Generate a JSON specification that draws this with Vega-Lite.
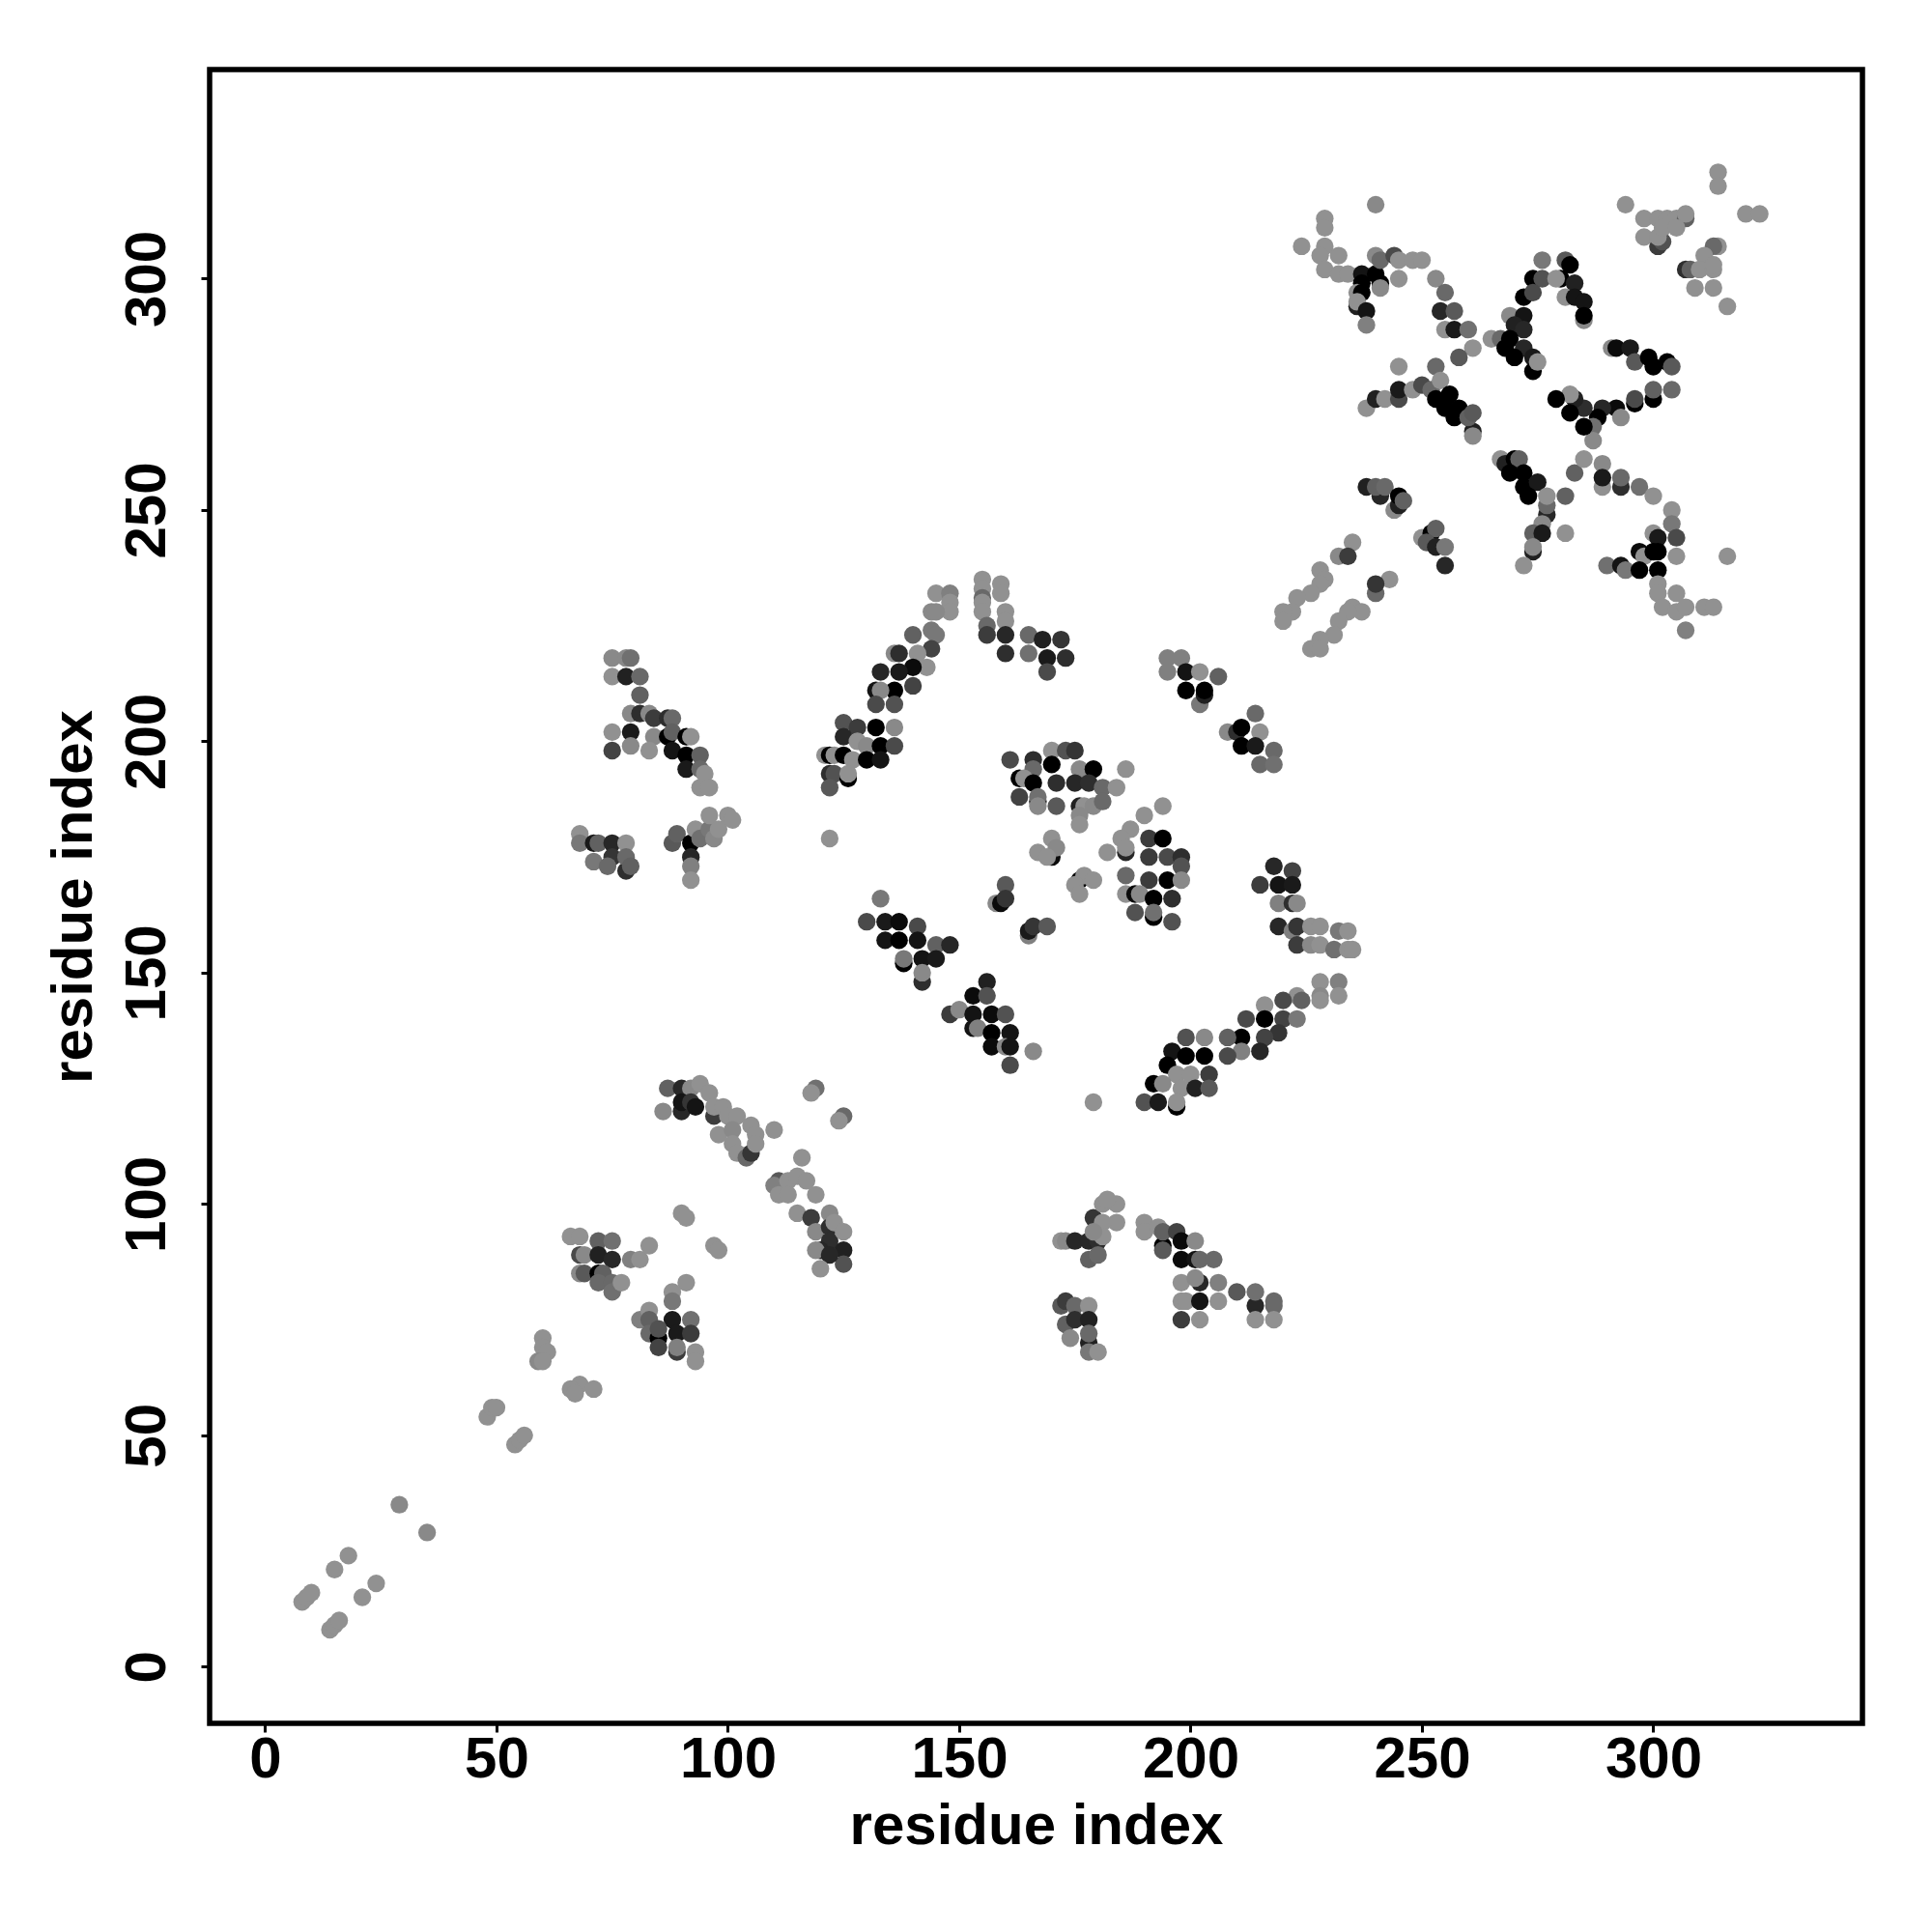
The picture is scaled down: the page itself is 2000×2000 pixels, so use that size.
{"$schema":"https://vega.github.io/schema/vega-lite/v6.json","autosize":{"type":"none"},"padding":{"left":217,"top":72,"right":72,"bottom":216},"width":1711,"height":1712,"background":"white","view":{"stroke":"#000000","strokeWidth":5.5,"fill":"white"},"config":{"font":"Liberation Sans"},
"data":{"values":[
{"i":8,"j":14,"w":0.05},{"i":9,"j":15,"w":0.05},{"i":10,"j":16,"w":0.05},{"i":14,"j":8,"w":0.05},{"i":15,"j":9,"w":0.05},{"i":16,"j":10,"w":0.05},{"i":15,"j":21,"w":0.05},{"i":18,"j":24,"w":0.05},{"i":21,"j":15,"w":0.05},{"i":24,"j":18,"w":0.05},{"i":29,"j":35,"w":0.1},{"i":35,"j":29,"w":0.1},{"i":48,"j":54,"w":0.05},{"i":49,"j":56,"w":0.05},{"i":50,"j":56,"w":0.05},{"i":54,"j":48,"w":0.05},{"i":55,"j":49,"w":0.05},{"i":56,"j":50,"w":0.05},
{"i":60,"j":71,"w":0.05},{"i":60,"j":69,"w":0.05},{"i":61,"j":68,"w":0.05},{"i":59,"j":66,"w":0.1},{"i":60,"j":66,"w":0.05},{"i":68,"j":61,"w":0.05},{"i":66,"j":60,"w":0.05},{"i":67,"j":59,"w":0.05},{"i":71,"j":60,"w":0.05},
{"i":66,"j":93,"w":0.05},{"i":68,"j":93,"w":0.05},{"i":72,"j":92,"w":0.35},{"i":75,"j":92,"w":0.25},{"i":68,"j":89,"w":0.5},{"i":69,"j":89,"w":0.1},{"i":72,"j":89,"w":0.8},{"i":75,"j":88,"w":0.75},{"i":79,"j":88,"w":0.15},{"i":81,"j":88,"w":0.05},{"i":83,"j":91,"w":0.05},{"i":68,"j":85,"w":0.1},{"i":69,"j":85,"w":0.4},{"i":72,"j":85,"w":1},{"i":73,"j":85,"w":0.35},{"i":72,"j":83,"w":0.3},{"i":75,"j":83,"w":0.3},{"i":75,"j":81,"w":0.25},{"i":77,"j":83,"w":0.05},
{"i":90,"j":98,"w":0.05},{"i":91,"j":97,"w":0.05},{"i":97,"j":91,"w":0.05},{"i":98,"j":90,"w":0.05},
{"i":91,"j":83,"w":0.05},{"i":88,"j":81,"w":0.05},{"i":88,"j":79,"w":0.2},{"i":81,"j":75,"w":0.15},{"i":83,"j":77,"w":0.05},{"i":83,"j":75,"w":0.35},{"i":88,"j":75,"w":0.85},{"i":92,"j":75,"w":0.25},{"i":83,"j":72,"w":0.3},{"i":85,"j":71,"w":1},{"i":85,"j":73,"w":0.45},{"i":89,"j":72,"w":0.85},{"i":92,"j":72,"w":0.6},{"i":85,"j":69,"w":0.55},{"i":89,"j":68,"w":0.6},{"i":89,"j":69,"w":0.15},{"i":93,"j":68,"w":0.05},{"i":93,"j":66,"w":0.05},
{"i":87,"j":125,"w":0.35},{"i":90,"j":125,"w":0.75},{"i":92,"j":125,"w":0.1},{"i":94,"j":126,"w":0.05},{"i":86,"j":120,"w":0.1},{"i":90,"j":120,"w":0.75},{"i":90,"j":122,"w":0.9},{"i":92,"j":122,"w":0.65},{"i":93,"j":121,"w":0.9},{"i":96,"j":124,"w":0.05},{"i":97,"j":119,"w":0.6},{"i":97,"j":121,"w":0.05},{"i":99,"j":121,"w":0.05},{"i":98,"j":115,"w":0.05},{"i":100,"j":119,"w":0.05},{"i":102,"j":119,"w":0.05},{"i":101,"j":116,"w":0.1},{"i":101,"j":113,"w":0.05},{"i":102,"j":111,"w":0.05},{"i":104,"j":110,"w":0.3},{"i":105,"j":111,"w":0.65},{"i":105,"j":117,"w":0.05},{"i":106,"j":115,"w":0.05},{"i":106,"j":113,"w":0.05},{"i":110,"j":116,"w":0.05},{"i":119,"j":125,"w":0.25},{"i":118,"j":124,"w":0.05},{"i":125,"j":119,"w":0.3},{"i":124,"j":118,"w":0.05},{"i":116,"j":110,"w":0.05},
{"i":111,"j":105,"w":0.4},{"i":110,"j":104,"w":0.15},{"i":111,"j":102,"w":0.05},{"i":113,"j":105,"w":0.05},{"i":115,"j":106,"w":0.05},{"i":117,"j":105,"w":0.05},{"i":113,"j":102,"w":0.05},{"i":115,"j":98,"w":0.05},{"i":119,"j":102,"w":0.05},{"i":118,"j":97,"w":0.6},{"i":122,"j":98,"w":0.1},{"i":119,"j":94,"w":0.1},{"i":122,"j":95,"w":0.7},{"i":123,"j":96,"w":0.05},{"i":122,"j":92,"w":0.7},{"i":125,"j":90,"w":0.8},{"i":125,"j":94,"w":0.05},{"i":125,"j":87,"w":0.45},{"i":120,"j":90,"w":0.75},{"i":119,"j":90,"w":0.1},{"i":122,"j":89,"w":0.75},{"i":120,"j":86,"w":0.05},
{"i":172,"j":92,"w":0.05},{"i":173,"j":92,"w":0.1},{"i":175,"j":92,"w":0.75},{"i":178,"j":92,"w":0.75},{"i":179,"j":97,"w":0.65},{"i":180,"j":92,"w":0.7},{"i":184,"j":100,"w":0.05},{"i":181,"j":100,"w":0.05},{"i":182,"j":101,"w":0.05},{"i":184,"j":96,"w":0.05},{"i":181,"j":96,"w":0.05},{"i":181,"j":93,"w":0.05},{"i":179,"j":94,"w":0.1},{"i":178,"j":88,"w":0.35},{"i":180,"j":89,"w":0.3},
{"i":190,"j":96,"w":0.05},{"i":190,"j":94,"w":0.05},{"i":193,"j":95,"w":0.05},{"i":194,"j":91,"w":1},{"i":194,"j":90,"w":0.4},{"i":194,"j":94,"w":0.35},{"i":197,"j":94,"w":0.55},{"i":198,"j":92,"w":0.95},{"i":201,"j":92,"w":0.1},{"i":198,"j":88,"w":0.95},{"i":201,"j":88,"w":0.9},{"i":202,"j":88,"w":0.3},{"i":205,"j":88,"w":0.3},{"i":198,"j":83,"w":0.05},{"i":202,"j":83,"w":0.75},{"i":201,"j":84,"w":0.1},{"i":206,"j":83,"w":0.15},{"i":198,"j":79,"w":0.05},{"i":199,"j":79,"w":0.05},{"i":202,"j":79,"w":0.9},{"i":206,"j":79,"w":0.05},{"i":198,"j":75,"w":0.6},{"i":202,"j":75,"w":0.05},{"i":210,"j":81,"w":0.4},{"i":214,"j":78,"w":0.75},{"i":214,"j":81,"w":0.25},{"i":214,"j":75,"w":0.05},{"i":218,"j":79,"w":0.3},{"i":218,"j":78,"w":0.3},{"i":218,"j":75,"w":0.05},
{"i":172,"j":78,"w":0.4},{"i":173,"j":79,"w":0.6},{"i":175,"j":78,"w":0.3},{"i":178,"j":78,"w":0.05},{"i":173,"j":74,"w":0.35},{"i":175,"j":75,"w":0.7},{"i":178,"j":75,"w":0.8},{"i":178,"j":70,"w":0.8},{"i":178,"j":72,"w":0.3},{"i":174,"j":71,"w":0.1},{"i":178,"j":68,"w":0.2},{"i":180,"j":68,"w":0.05},
{"i":155,"j":235,"w":0.05},{"i":159,"j":234,"w":0.05},{"i":155,"j":233,"w":0.05},{"i":159,"j":232,"w":0.05},{"i":155,"j":231,"w":0.3},{"i":155,"j":230,"w":0.05},{"i":155,"j":228,"w":0.05},{"i":160,"j":228,"w":0.05},{"i":160,"j":226,"w":0.05},{"i":156,"j":225,"w":0.3},{"i":156,"j":223,"w":0.6},{"i":160,"j":223,"w":0.75},{"i":160,"j":219,"w":0.7},{"i":165,"j":223,"w":0.3},{"i":165,"j":219,"w":0.25},{"i":168,"j":222,"w":0.8},{"i":172,"j":222,"w":0.65},{"i":169,"j":218,"w":0.85},{"i":173,"j":218,"w":0.7},{"i":169,"j":215,"w":0.5},
{"i":145,"j":232,"w":0.05},{"i":148,"j":232,"w":0.15},{"i":148,"j":230,"w":0.05},{"i":148,"j":228,"w":0.05},{"i":144,"j":228,"w":0.1},{"i":145,"j":228,"w":0.1},{"i":144,"j":224,"w":0.2},{"i":140,"j":223,"w":0.35},{"i":145,"j":223,"w":0.2},{"i":144,"j":220,"w":0.55},{"i":136,"j":219,"w":0.1},{"i":137,"j":219,"w":0.7},{"i":141,"j":219,"w":0.05},{"i":143,"j":216,"w":0.05},{"i":140,"j":216,"w":0.95},{"i":137,"j":215,"w":0.85},{"i":133,"j":215,"w":0.75},{"i":140,"j":212,"w":0.55},{"i":136,"j":211,"w":1},{"i":132,"j":211,"w":0.9},{"i":133,"j":211,"w":0.1},{"i":132,"j":208,"w":0.5},{"i":136,"j":208,"w":0.45},
{"i":125,"j":204,"w":0.45},{"i":128,"j":203,"w":0.6},{"i":132,"j":203,"w":1},{"i":136,"j":203,"w":0.1},{"i":125,"j":201,"w":0.75},{"i":128,"j":200,"w":0.05},{"i":130,"j":199,"w":0.1},{"i":133,"j":199,"w":1},{"i":136,"j":199,"w":0.5},{"i":121,"j":197,"w":0.05},{"i":122,"j":197,"w":1},{"i":123,"j":197,"w":0.05},{"i":125,"j":197,"w":1},{"i":127,"j":196,"w":0.05},{"i":130,"j":196,"w":1},{"i":133,"j":196,"w":0.9},{"i":122,"j":193,"w":0.7},{"i":123,"j":193,"w":0.45},{"i":126,"j":192,"w":1},{"i":126,"j":193,"w":0.05},{"i":122,"j":190,"w":0.4},
{"i":161,"j":196,"w":0.5},{"i":166,"j":196,"w":0.7},{"i":170,"j":198,"w":0.05},{"i":173,"j":198,"w":0.45},{"i":175,"j":198,"w":0.65},{"i":166,"j":194,"w":0.3},{"i":170,"j":195,"w":1},{"i":176,"j":194,"w":0.1},{"i":179,"j":194,"w":1},{"i":186,"j":194,"w":0.05},{"i":163,"j":192,"w":1},{"i":164,"j":192,"w":0.05},{"i":166,"j":191,"w":1},{"i":171,"j":191,"w":0.7},{"i":175,"j":191,"w":0.75},{"i":178,"j":191,"w":0.7},{"i":181,"j":190,"w":0.3},{"i":184,"j":190,"w":0.05},{"i":163,"j":188,"w":0.55},{"i":167,"j":187,"w":1},{"i":167,"j":188,"w":0.25},{"i":167,"j":186,"w":0.1},{"i":171,"j":186,"w":0.4},{"i":176,"j":186,"w":0.8},{"i":177,"j":186,"w":0.05},{"i":179,"j":186,"w":0.1},{"i":181,"j":187,"w":0.3},{"i":176,"j":184,"w":0.1},{"i":176,"j":182,"w":0.05},
{"i":194,"j":186,"w":0.05},{"i":190,"j":184,"w":0.05},{"i":187,"j":181,"w":0.05},{"i":185,"j":179,"w":0.05},{"i":191,"j":179,"w":0.6},{"i":194,"j":179,"w":1},{"i":186,"j":176,"w":0.75},{"i":186,"j":177,"w":0.05},{"i":182,"j":176,"w":0.05},{"i":191,"j":175,"w":0.6},{"i":195,"j":175,"w":0.5},{"i":198,"j":175,"w":0.7},{"i":198,"j":173,"w":0.45},{"i":186,"j":171,"w":0.3},{"i":191,"j":170,"w":0.6},{"i":195,"j":170,"w":1},{"i":198,"j":170,"w":0.1},{"i":186,"j":167,"w":0.05},{"i":188,"j":167,"w":0.95},{"i":189,"j":167,"w":0.1},{"i":192,"j":166,"w":1},{"i":196,"j":166,"w":0.7},{"i":188,"j":163,"w":0.45},{"i":192,"j":162,"w":1},{"i":192,"j":163,"w":0.25},{"i":196,"j":161,"w":0.45},
{"i":170,"j":179,"w":0.05},{"i":167,"j":176,"w":0.05},{"i":170,"j":175,"w":0.95},{"i":171,"j":177,"w":0.1},{"i":169,"j":175,"w":0.05},
{"i":176,"j":170,"w":1},{"i":177,"j":171,"w":0.05},{"i":179,"j":170,"w":0.05},{"i":175,"j":169,"w":0.05},{"i":176,"j":167,"w":0.05},
{"i":160,"j":169,"w":0.4},{"i":158,"j":165,"w":0.1},{"i":159,"j":165,"w":0.95},{"i":160,"j":166,"w":0.65},
{"i":165,"j":158,"w":0.15},{"i":165,"j":159,"w":0.85},{"i":166,"j":160,"w":0.65},{"i":169,"j":160,"w":0.4},
{"i":133,"j":166,"w":0.2},{"i":130,"j":161,"w":0.5},{"i":134,"j":161,"w":0.85},{"i":137,"j":161,"w":0.95},{"i":141,"j":160,"w":0.5},{"i":134,"j":157,"w":0.9},{"i":137,"j":157,"w":1},{"i":141,"j":157,"w":0.9},{"i":145,"j":156,"w":0.35},{"i":148,"j":156,"w":0.75},{"i":138,"j":152,"w":1},{"i":138,"j":153,"w":0.2},{"i":142,"j":153,"w":0.9},{"i":145,"j":153,"w":0.85},{"i":142,"j":148,"w":0.7},{"i":142,"j":150,"w":0.1},
{"i":156,"j":148,"w":0.8},{"i":153,"j":145,"w":0.95},{"i":156,"j":145,"w":0.45},{"i":148,"j":141,"w":0.6},{"i":150,"j":142,"w":0.1},{"i":153,"j":141,"w":0.9},{"i":157,"j":141,"w":0.95},{"i":160,"j":141,"w":0.45},{"i":153,"j":138,"w":0.9},{"i":154,"j":138,"w":0.15},{"i":157,"j":137,"w":1},{"i":161,"j":137,"w":0.9},{"i":157,"j":134,"w":0.95},{"i":160,"j":134,"w":0.1},{"i":161,"j":134,"w":0.9},{"i":166,"j":133,"w":0.1},{"i":161,"j":130,"w":0.5},
{"i":195,"j":218,"w":0.15},{"i":198,"j":218,"w":0.15},{"i":195,"j":215,"w":0.15},{"i":199,"j":215,"w":0.9},{"i":202,"j":215,"w":0.05},{"i":206,"j":214,"w":0.35},{"i":199,"j":211,"w":1},{"i":202,"j":208,"w":0.2},{"i":203,"j":210,"w":0.8},{"i":203,"j":211,"w":1},
{"i":214,"j":206,"w":0.3},{"i":208,"j":202,"w":0.1},{"i":210,"j":202,"w":0.7},{"i":211,"j":203,"w":1},{"i":215,"j":202,"w":0.05},{"i":211,"j":199,"w":1},{"i":214,"j":199,"w":0.85},{"i":218,"j":198,"w":0.3},{"i":215,"j":195,"w":0.3},{"i":218,"j":195,"w":0.25},
{"i":218,"j":173,"w":0.75},{"i":222,"j":172,"w":0.55},{"i":215,"j":169,"w":0.6},{"i":219,"j":169,"w":0.9},{"i":222,"j":169,"w":0.85},{"i":219,"j":165,"w":0.15},{"i":222,"j":165,"w":0.7},{"i":223,"j":165,"w":0.1},
{"i":219,"j":160,"w":0.75},{"i":222,"j":159,"w":0.15},{"i":223,"j":160,"w":0.65},{"i":226,"j":160,"w":0.05},{"i":228,"j":160,"w":0.05},{"i":232,"j":159,"w":0.2},{"i":234,"j":159,"w":0.05},{"i":223,"j":156,"w":0.6},{"i":226,"j":156,"w":0.1},{"i":228,"j":156,"w":0.05},{"i":231,"j":155,"w":0.25},{"i":234,"j":155,"w":0.05},{"i":235,"j":155,"w":0.05},
{"i":228,"j":148,"w":0.05},{"i":232,"j":148,"w":0.15},{"i":228,"j":145,"w":0.1},{"i":232,"j":145,"w":0.05},{"i":228,"j":144,"w":0.05},{"i":223,"j":145,"w":0.05},{"i":224,"j":144,"w":0.35},{"i":220,"j":144,"w":0.5},{"i":216,"j":143,"w":0.05},{"i":216,"j":140,"w":1},{"i":212,"j":140,"w":0.5},{"i":220,"j":140,"w":0.55},{"i":223,"j":140,"w":0.2},{"i":219,"j":137,"w":0.65},{"i":216,"j":136,"w":0.55},{"i":211,"j":136,"w":1},{"i":208,"j":136,"w":0.35},{"i":211,"j":133,"w":0.15},{"i":215,"j":133,"w":0.75},{"i":208,"j":132,"w":0.5},
{"i":199,"j":136,"w":0.45},{"i":203,"j":136,"w":0.1},{"i":196,"j":133,"w":0.9},{"i":199,"j":132,"w":1},{"i":203,"j":132,"w":1},{"i":195,"j":130,"w":1},{"i":197,"j":128,"w":0.05},{"i":200,"j":128,"w":0.05},{"i":204,"j":128,"w":0.6},{"i":192,"j":126,"w":1},{"i":194,"j":126,"w":0.1},{"i":198,"j":125,"w":0.05},{"i":201,"j":125,"w":0.8},{"i":204,"j":125,"w":0.4},{"i":190,"j":122,"w":0.45},{"i":193,"j":122,"w":0.85},{"i":197,"j":121,"w":1},{"i":197,"j":122,"w":0.05},{"i":179,"j":122,"w":0.05},
{"i":75,"j":218,"w":0.1},{"i":78,"j":218,"w":0.1},{"i":79,"j":218,"w":0.25},{"i":75,"j":214,"w":0.05},{"i":78,"j":214,"w":0.8},{"i":81,"j":214,"w":0.3},{"i":81,"j":210,"w":0.35},{"i":79,"j":206,"w":0.1},{"i":81,"j":206,"w":0.7},{"i":83,"j":206,"w":0.1},{"i":84,"j":205,"w":0.6},{"i":87,"j":205,"w":0.7},{"i":88,"j":205,"w":0.3},{"i":75,"j":202,"w":0.05},{"i":79,"j":202,"w":0.85},{"i":84,"j":201,"w":0.1},{"i":87,"j":201,"w":1},{"i":88,"j":202,"w":0.35},{"i":91,"j":201,"w":1},{"i":92,"j":201,"w":0.05},{"i":75,"j":198,"w":0.55},{"i":79,"j":199,"w":0.1},{"i":83,"j":198,"w":0.05},{"i":88,"j":198,"w":0.9},{"i":91,"j":197,"w":1},{"i":94,"j":197,"w":0.35},{"i":91,"j":194,"w":0.85},{"i":94,"j":194,"w":0.3},{"i":95,"j":193,"w":0.05},{"i":94,"j":190,"w":0.05},{"i":96,"j":190,"w":0.05},
{"i":68,"j":180,"w":0.05},{"i":68,"j":178,"w":0.2},{"i":71,"j":178,"w":0.85},{"i":72,"j":178,"w":0.35},{"i":75,"j":178,"w":0.75},{"i":78,"j":178,"w":0.05},{"i":71,"j":174,"w":0.2},{"i":75,"j":175,"w":0.65},{"i":74,"j":173,"w":0.3},{"i":78,"j":172,"w":0.7},{"i":78,"j":175,"w":0.3},{"i":79,"j":173,"w":0.35},
{"i":88,"j":178,"w":0.4},{"i":89,"j":180,"w":0.35},{"i":92,"j":178,"w":1},{"i":93,"j":181,"w":0.05},{"i":94,"j":179,"w":0.25},{"i":96,"j":181,"w":0.2},{"i":96,"j":184,"w":0.05},{"i":97,"j":179,"w":0.1},{"i":98,"j":181,"w":0.05},{"i":100,"j":184,"w":0.05},{"i":101,"j":183,"w":0.05},{"i":92,"j":175,"w":0.75},{"i":92,"j":173,"w":0.15},{"i":92,"j":170,"w":0.05},{"i":122,"j":179,"w":0.05},
{"i":240,"j":316,"w":0.1},{"i":229,"j":313,"w":0.05},{"i":229,"j":311,"w":0.05},{"i":224,"j":307,"w":0.05},{"i":229,"j":307,"w":0.05},{"i":228,"j":305,"w":0.05},{"i":232,"j":305,"w":0.05},{"i":229,"j":302,"w":0.05},{"i":232,"j":301,"w":0.05},{"i":234,"j":301,"w":0.05},{"i":237,"j":301,"w":0.9},{"i":240,"j":301,"w":1},{"i":240,"j":305,"w":0.1},{"i":241,"j":304,"w":0.3},{"i":244,"j":305,"w":0.5},{"i":245,"j":304,"w":0.05},{"i":248,"j":304,"w":0.05},{"i":250,"j":304,"w":0.05},{"i":245,"j":300,"w":0.05},{"i":241,"j":299,"w":1},{"i":241,"j":298,"w":0.1},{"i":237,"j":299,"w":1},{"i":236,"j":297,"w":0.05},{"i":237,"j":297,"w":1},{"i":236,"j":294,"w":0.8},{"i":236,"j":295,"w":0.05},{"i":238,"j":293,"w":0.9},{"i":238,"j":290,"w":0.15},
{"i":253,"j":300,"w":0.1},{"i":255,"j":297,"w":0.3},{"i":254,"j":293,"w":0.75},{"i":257,"j":293,"w":0.4},{"i":255,"j":289,"w":0.05},{"i":257,"j":289,"w":0.85},{"i":260,"j":289,"w":0.25},{"i":261,"j":285,"w":0.05},{"i":258,"j":283,"w":0.4},
{"i":276,"j":304,"w":0.2},{"i":274,"j":300,"w":1},{"i":276,"j":300,"w":0.45},{"i":272,"j":296,"w":1},{"i":274,"j":297,"w":0.5},{"i":269,"j":292,"w":0.1},{"i":272,"j":292,"w":0.9},{"i":270,"j":290,"w":0.8},{"i":272,"j":289,"w":0.75},{"i":265,"j":287,"w":0.05},{"i":267,"j":287,"w":0.3},{"i":269,"j":287,"w":1},{"i":268,"j":285,"w":1},{"i":272,"j":285,"w":0.75},{"i":270,"j":283,"w":1},{"i":274,"j":283,"w":0.85},{"i":274,"j":280,"w":1},{"i":275,"j":282,"w":0.05},
{"i":281,"j":304,"w":0.4},{"i":280,"j":300,"w":1},{"i":282,"j":303,"w":1},{"i":279,"j":300,"w":0.05},{"i":283,"j":299,"w":0.8},{"i":281,"j":296,"w":0.05},{"i":283,"j":296,"w":0.9},{"i":285,"j":295,"w":0.9},{"i":285,"j":291,"w":0.1},{"i":285,"j":292,"w":1},
{"i":291,"j":285,"w":0.1},{"i":292,"j":285,"w":0.95},{"i":295,"j":285,"w":0.85},{"i":296,"j":282,"w":0.4},{"i":299,"j":283,"w":1},{"i":300,"j":281,"w":1},{"i":303,"j":282,"w":1},{"i":304,"j":281,"w":0.4},
{"i":304,"j":276,"w":0.3},{"i":300,"j":274,"w":1},{"i":300,"j":276,"w":0.35},{"i":296,"j":273,"w":1},{"i":296,"j":274,"w":0.5},{"i":292,"j":272,"w":0.95},{"i":293,"j":270,"w":0.1},{"i":289,"j":272,"w":0.75},{"i":288,"j":270,"w":1},{"i":287,"j":268,"w":0.25},{"i":287,"j":265,"w":0.1},{"i":285,"j":272,"w":0.7},{"i":283,"j":274,"w":0.8},{"i":282,"j":275,"w":0.05},{"i":279,"j":274,"w":1},{"i":282,"j":271,"w":1},{"i":285,"j":268,"w":1},
{"i":238,"j":272,"w":0.05},{"i":240,"j":274,"w":0.8},{"i":242,"j":274,"w":0.05},{"i":245,"j":274,"w":0.5},{"i":245,"j":276,"w":0.85},{"i":245,"j":281,"w":0.05},{"i":253,"j":281,"w":0.3},{"i":248,"j":276,"w":0.05},{"i":250,"j":277,"w":0.5},{"i":252,"j":276,"w":0.3},{"i":254,"j":278,"w":0.05},{"i":253,"j":274,"w":1},{"i":256,"j":275,"w":1},{"i":255,"j":272,"w":1},{"i":258,"j":272,"w":1},{"i":257,"j":270,"w":1},{"i":261,"j":267,"w":0.8},{"i":261,"j":266,"w":0.1},{"i":260,"j":270,"w":0.35},{"i":261,"j":271,"w":0.4},
{"i":267,"j":261,"w":0.05},{"i":268,"j":260,"w":0.8},{"i":270,"j":261,"w":1},{"i":271,"j":261,"w":0.35},{"i":269,"j":258,"w":1},{"i":272,"j":258,"w":1},{"i":272,"j":255,"w":1},{"i":275,"j":256,"w":0.85},{"i":273,"j":253,"w":1},{"i":277,"j":249,"w":0.75},{"i":277,"j":251,"w":0.3},{"i":277,"j":253,"w":0.05},{"i":276,"j":247,"w":0.1},{"i":274,"j":245,"w":0.35},{"i":276,"j":245,"w":0.85},{"i":281,"j":253,"w":0.35},{"i":283,"j":258,"w":0.35},{"i":285,"j":261,"w":0.05},{"i":281,"j":245,"w":0.05},{"i":274,"j":241,"w":0.8},{"i":274,"j":242,"w":0.1},{"i":272,"j":238,"w":0.05},
{"i":289,"j":260,"w":0.1},{"i":289,"j":255,"w":0.05},{"i":289,"j":257,"w":0.85},{"i":293,"j":255,"w":0.7},{"i":293,"j":257,"w":0.3},{"i":297,"j":255,"w":0.25},{"i":300,"j":253,"w":0.05},
{"i":304,"j":250,"w":0.05},{"i":304,"j":247,"w":0.2},{"i":300,"j":245,"w":0.05},{"i":301,"j":244,"w":0.85},{"i":305,"j":244,"w":0.5},{"i":305,"j":240,"w":0.05},{"i":297,"j":241,"w":0.95},{"i":298,"j":240,"w":0.05},{"i":300,"j":241,"w":1},{"i":301,"j":241,"w":1},{"i":290,"j":238,"w":0.25},{"i":293,"j":238,"w":0.9},{"i":294,"j":237,"w":0.2},{"i":297,"j":237,"w":1},{"i":301,"j":237,"w":1},{"i":301,"j":234,"w":0.05},{"i":301,"j":232,"w":0.05},{"i":305,"j":232,"w":0.05},{"i":302,"j":229,"w":0.05},{"i":305,"j":228,"w":0.05},{"i":307,"j":229,"w":0.05},{"i":311,"j":229,"w":0.05},{"i":313,"j":229,"w":0.05},{"i":307,"j":224,"w":0.15},{"i":316,"j":240,"w":0.05},
{"i":314,"j":323,"w":0.05},{"i":314,"j":320,"w":0.05},{"i":294,"j":316,"w":0.05},{"i":298,"j":313,"w":0.05},{"i":301,"j":307,"w":0.6},{"i":302,"j":308,"w":0.45},{"i":301,"j":313,"w":0.05},{"i":303,"j":313,"w":0.05},{"i":305,"j":313,"w":0.05},{"i":307,"j":313,"w":0.35},{"i":307,"j":314,"w":0.05},{"i":298,"j":309,"w":0.05},{"i":301,"j":309,"w":0.05},{"i":302,"j":311,"w":0.05},{"i":305,"j":311,"w":0.05},{"i":320,"j":314,"w":0.05},{"i":323,"j":314,"w":0.05},{"i":314,"j":307,"w":0.05},{"i":313,"j":307,"w":0.3},{"i":311,"j":305,"w":0.05},{"i":307,"j":302,"w":0.7},{"i":308,"j":302,"w":0.35},{"i":310,"j":302,"w":0.05},{"i":313,"j":302,"w":0.05},{"i":313,"j":303,"w":0.05},{"i":309,"j":298,"w":0.05},{"i":313,"j":298,"w":0.05},{"i":316,"j":294,"w":0.05},
{"i":238,"j":255,"w":0.8},{"i":241,"j":253,"w":0.75},{"i":240,"j":255,"w":0.35},{"i":242,"j":255,"w":0.3},{"i":244,"j":250,"w":0.1},{"i":245,"j":251,"w":0.8},{"i":245,"j":253,"w":1},{"i":246,"j":252,"w":0.35},
{"i":250,"j":244,"w":0.05},{"i":252,"j":245,"w":1},{"i":253,"j":246,"w":0.35},{"i":251,"j":243,"w":0.4},{"i":253,"j":242,"w":0.8},{"i":255,"j":242,"w":0.2},{"i":255,"j":238,"w":0.75},
{"i":235,"j":243,"w":0.05},{"i":232,"j":240,"w":0.1},{"i":234,"j":240,"w":0.6},{"i":228,"j":237,"w":0.05},{"i":229,"j":235,"w":0.05},{"i":228,"j":234,"w":0.05},{"i":226,"j":232,"w":0.05},{"i":223,"j":231,"w":0.05},{"i":222,"j":228,"w":0.05},{"i":220,"j":228,"w":0.05},{"i":220,"j":226,"w":0.05},
{"i":243,"j":235,"w":0.05},{"i":240,"j":232,"w":0.3},{"i":240,"j":234,"w":0.65},{"i":235,"j":229,"w":0.05},{"i":237,"j":228,"w":0.05},{"i":234,"j":228,"w":0.05},{"i":232,"j":226,"w":0.05},{"i":231,"j":223,"w":0.05},{"i":228,"j":222,"w":0.05},{"i":226,"j":220,"w":0.05},{"i":228,"j":220,"w":0.05}
]},
"mark":{"type":"circle","size":335,"opacity":1,"clip":false},
"encoding":{
"x":{"field":"i","type":"quantitative","scale":{"domain":[-12,345.2],"nice":false,"zero":false},"axis":{"title":"residue index","grid":false,"domain":false,"values":[0,50,100,150,200,250,300],"tickColor":"#000000","tickSize":9,"tickWidth":3,"labelColor":"#000000","labelFont":"Liberation Sans","labelFontWeight":"bold","labelFontSize":60,"labelPadding":-1,"labelFlush":false,"labelOverlap":false,"titleColor":"#000000","titleFont":"Liberation Sans","titleFontWeight":"bold","titleFontSize":60,"titlePadding":10}},
"y":{"field":"j","type":"quantitative","scale":{"domain":[-12.25,345.2],"nice":false,"zero":false},"axis":{"title":"residue index","grid":false,"domain":false,"values":[0,50,100,150,200,250,300],"tickColor":"#000000","tickSize":9,"tickWidth":3,"labelColor":"#000000","labelFont":"Liberation Sans","labelFontWeight":"bold","labelFontSize":60,"labelAngle":-90,"labelAlign":"center","labelBaseline":"bottom","labelPadding":25,"labelFlush":false,"labelOverlap":false,"titleColor":"#000000","titleFont":"Liberation Sans","titleFontWeight":"bold","titleFontSize":60,"titlePadding":15}},
"color":{"field":"w","type":"quantitative","legend":null,"scale":{"domain":[0,1],"range":["#999999","#000000"]}}
}}
